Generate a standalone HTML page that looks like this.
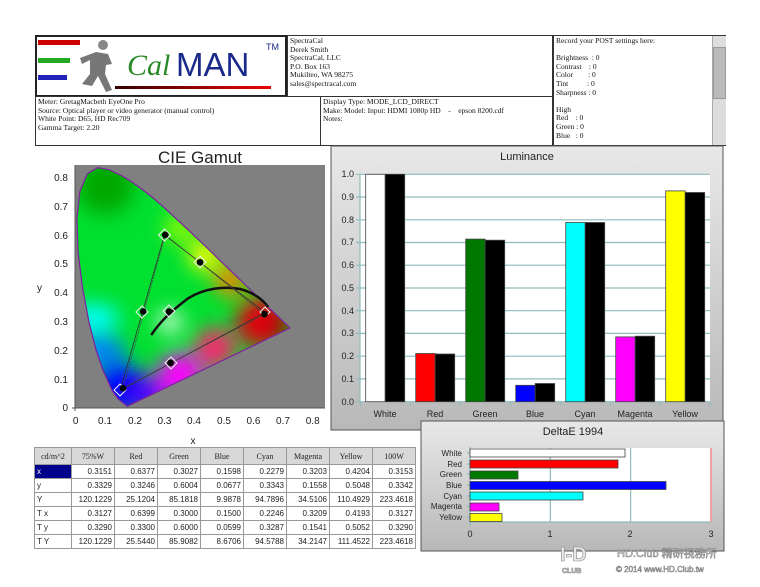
<!DOCTYPE html>
<html><head><meta charset="utf-8"><style>
body{margin:0;width:760px;height:587px;background:#fff;position:relative;overflow:hidden;font-family:"Liberation Serif",serif;}
.b{position:absolute;border:1px solid #333;box-sizing:border-box;background:#fff;font-size:7.5px;line-height:8.6px;padding:1px 2px;color:#111;white-space:pre;}
table{position:absolute;left:34px;top:447px;border-collapse:collapse;font-family:"Liberation Sans",sans-serif;font-size:8px;color:#222;}
td{border:1px solid #999;height:13px;padding:0 2px;text-align:right;width:38px;}
td:first-child{text-align:left;width:32px;}
tr.h td{background:#d8d8d8;text-align:center;height:16px;font-family:"Liberation Serif",serif;}
</style></head><body>
<div class="b" style="left:35px;top:35px;width:252px;height:62px;border:2px solid #222;padding:0"></div>
<div style="position:absolute;left:38px;top:40px;width:42px;height:5px;background:#c00"></div>
<div style="position:absolute;left:38px;top:58px;width:32px;height:5px;background:#2a2"></div>
<div style="position:absolute;left:38px;top:75px;width:29px;height:5px;background:#22b"></div>
<svg style="position:absolute;left:78px;top:38px" width="40" height="56"><circle cx="25" cy="7" r="5" fill="#888"/><path d="M18 14 L30 16 L34 26 L28 27 L27 36 L34 52 L28 54 L20 38 L14 48 L4 46 L12 36 L12 22 L4 26 L2 20 Z" fill="#777"/></svg>
<div style="position:absolute;left:127px;top:48px;font-family:'Liberation Serif',serif;font-style:italic;font-size:30px;color:#2a8a2a;line-height:36px">Cal</div>
<div style="position:absolute;left:176px;top:47px;font-family:'Liberation Sans',sans-serif;font-size:33px;color:#1a2a8a;line-height:36px">MAN</div>
<div style="position:absolute;left:266px;top:42px;font-family:'Liberation Sans',sans-serif;font-size:9px;color:#1a2a8a">TM</div>
<div style="position:absolute;left:115px;top:86px;width:156px;height:3px;background:linear-gradient(90deg,#300,#e00)"></div>
<div class="b" style="left:287px;top:35px;width:266px;height:62px">SpectraCal
Derek Smith
SpectraCal, LLC
P.O. Box 163
Mukilteo, WA 98275
sales@spectracal.com</div>
<div class="b" style="left:35px;top:96px;width:286px;height:50px">Meter: GretagMacbeth EyeOne Pro
Source: Optical player or video generator (manual control)
White Point: D65, HD Rec709
Gamma Target: 2.20</div>
<div class="b" style="left:320px;top:96px;width:233px;height:50px">Display Type: MODE_LCD_DIRECT
Make: Model: Input: HDMI 1080p HD    -    epson 8200.cdf
Notes:</div>
<div class="b" style="left:553px;top:35px;width:173px;height:111px">Record your POST settings here:

Brightness  : 0
Contrast    : 0
Color        : 0
Tint          : 0
Sharpness : 0

High
Red    : 0
Green : 0
Blue   : 0</div>
<div style="position:absolute;left:712px;top:36px;width:13px;height:109px;background:#ddd;border-left:1px solid #aaa"><div style="margin-top:11px;height:50px;background:#bbb;border:1px solid #999"></div></div>

<svg style="position:absolute;left:0;top:0" width="760" height="587" font-family="Liberation Sans, sans-serif">
<defs>
<clipPath id="cp"><path id="loc" d="M127.2,406.3 L118.3,399.1 L112.4,391.1 L102.7,369.5 L96,349.9 L89.1,322.7 L82.7,288.8 L78.1,252.6 L76.9,219.1 L79.8,191.6 L87.2,173.8 L97.7,167.6 L109.5,169.8 L121.5,175.6 L132.8,182.6 L143.7,190.5 L154.4,199.1 L165,208.3 L175.5,218 L186.1,227.9 L196.7,237.9 L207.2,248 L217.4,257.9 L227.4,267.6 L237,276.8 L246,285.5 L254.2,293.5 L261.3,300.4 L267.6,306.5 L272.8,311.5 L290,328 Z"/></clipPath>
<filter id="bl" x="-50%" y="-50%" width="200%" height="200%"><feGaussianBlur stdDeviation="10"/></filter>
<linearGradient id="lg" x1="0" y1="0" x2="0" y2="1"><stop offset="0" stop-color="#e8e8e8"/><stop offset="1" stop-color="#b8b8b8"/></linearGradient>
</defs>
<text x="200" y="163" font-size="17" text-anchor="middle" fill="#222">CIE Gamut</text>
<rect x="75" y="165" width="250" height="243" fill="#808080"/>
<g clip-path="url(#cp)">
<rect x="70" y="160" width="230" height="250" fill="#00e030"/>
<g filter="url(#bl)">
<circle cx="105" cy="185" r="30" fill="#00a800"/>
<ellipse cx="92" cy="318" rx="28" ry="14" fill="#00ffff"/>
<ellipse cx="100" cy="350" rx="25" ry="15" fill="#0080ff"/>
<circle cx="120" cy="388" r="26" fill="#0000ff"/>
<circle cx="150" cy="395" r="18" fill="#5000ff"/>
<circle cx="180" cy="375" r="22" fill="#ff00ff"/>
<circle cx="215" cy="348" r="20" fill="#ff2070"/>
<circle cx="262" cy="322" r="26" fill="#e00010"/>
<circle cx="282" cy="326" r="10" fill="#900000"/>
<circle cx="230" cy="280" r="16" fill="#ff8000"/>
<circle cx="205" cy="255" r="16" fill="#ffff00"/>
<circle cx="180" cy="228" r="14" fill="#a0ff00"/>
<circle cx="170" cy="322" r="11" fill="#ffffff"/>
</g></g>
<use href="#loc" fill="none" stroke="#8020a0" stroke-width="1.2"/>
<g font-size="10" fill="#222">
<g text-anchor="end"><text x="68" y="181">0.8</text><text x="68" y="210">0.7</text><text x="68" y="239">0.6</text><text x="68" y="267">0.5</text><text x="68" y="296">0.4</text><text x="68" y="325">0.3</text><text x="68" y="354">0.2</text><text x="68" y="383">0.1</text><text x="68" y="411">0</text></g>
<g text-anchor="middle"><text x="75.7" y="424">0</text><text x="105" y="424">0.1</text><text x="135" y="424">0.2</text><text x="164.5" y="424">0.3</text><text x="194" y="424">0.4</text><text x="224" y="424">0.5</text><text x="253.5" y="424">0.6</text><text x="283" y="424">0.7</text><text x="312.7" y="424">0.8</text></g>
<text x="193" y="444" text-anchor="middle">x</text><text x="37" y="291">y</text>
</g>
<path d="M72,408H325M75,165V411" stroke="#555"/>
<path d="M151.2,335.1 C160,322 170,312 188.2,298.3 C205,288 225,286 240,289 C255,293 263,300 268.1,306.9" fill="none" stroke="#111" stroke-width="2.5"/>
<path d="M265.1,312.7 L164.5,234.9 L120.1,390.4 Z" fill="none" stroke="#333" stroke-width="0.8"/>
<path d="M264.5,314.2 L165.3,234.8 L123,388.2 Z" fill="none" stroke="#444" stroke-width="0.7" stroke-dasharray="2,1"/>
<g fill="none" stroke="#eee" stroke-width="1">
<path d="M265,307 l5,5 -5,5 -5,-5z M164.5,229 l6,6 -6,6 -6,-6z M120,384 l6,6 -6,6 -6,-6z M142,306 l6,6 -6,6 -6,-6z M171,357 l6,6 -6,6 -6,-6z M200,256 l6,6 -6,6 -6,-6z M169,305 l6,6 -6,6 -6,-6z"/></g>
<g fill="#000"><circle cx="264.5" cy="314.2" r="3.3"/><circle cx="165.3" cy="234.8" r="3.3"/><circle cx="123" cy="388.2" r="3.3"/><circle cx="143.2" cy="311.4" r="3.3"/><circle cx="170.5" cy="362.8" r="3.3"/><circle cx="200.1" cy="262.3" r="3.3"/><circle cx="169" cy="311.5" r="3.3"/></g>

<rect x="331" y="146" width="392" height="284" fill="url(#lg)" stroke="#555"/>
<text x="527" y="160" font-size="11" text-anchor="middle" fill="#222">Luminance</text>
<rect x="360" y="174" width="350" height="228" fill="#fff"/>
<g stroke="#8fbcbc" stroke-width="1.2">
<path d="M356,174.3H710M356,197H710M356,219.8H710M356,242.5H710M356,265.2H710M356,288H710M356,310.7H710M356,333.4H710M356,356.2H710M356,378.9H710M356,401.7H710M360,174V402"/>
<path d="M360.5,402v4M410.5,402v4M460.5,402v4M510.5,402v4M560.5,402v4M610.5,402v4M660.5,402v4M710,402v4"/>
</g>
<g font-size="9" fill="#222" text-anchor="end"><text x="354" y="177">1.0</text><text x="354" y="200">0.9</text><text x="354" y="223">0.8</text><text x="354" y="245">0.7</text><text x="354" y="268">0.6</text><text x="354" y="291">0.5</text><text x="354" y="314">0.4</text><text x="354" y="336">0.3</text><text x="354" y="359">0.2</text><text x="354" y="382">0.1</text><text x="354" y="405">0.0</text></g>
<g stroke="#444" stroke-width="0.8">
<rect x="365.7" y="174.3" width="19.5" height="227.4" fill="#fff"/><rect x="385.2" y="174.3" width="19.5" height="227.4" fill="#000"/>
<rect x="415.7" y="353.5" width="19.5" height="48.2" fill="#f00"/><rect x="435.2" y="354" width="19.5" height="47.7" fill="#000"/>
<rect x="465.7" y="239.1" width="19.5" height="162.6" fill="#007800"/><rect x="485.2" y="240.2" width="19.5" height="161.5" fill="#000"/>
<rect x="515.7" y="385.3" width="19.5" height="16.4" fill="#00f"/><rect x="535.2" y="383.5" width="19.5" height="18.2" fill="#000"/>
<rect x="565.7" y="222.5" width="19.5" height="179.2" fill="#0ff"/><rect x="585.2" y="222.5" width="19.5" height="179.2" fill="#000"/>
<rect x="615.7" y="336.9" width="19.5" height="64.8" fill="#f0f"/><rect x="635.2" y="336.2" width="19.5" height="65.5" fill="#000"/>
<rect x="665.7" y="190.9" width="19.5" height="210.8" fill="#ff0"/><rect x="685.2" y="192.5" width="19.5" height="209.2" fill="#000"/>
</g>
<g font-size="9" fill="#222" text-anchor="middle"><text x="385" y="417">White</text><text x="435" y="417">Red</text><text x="485" y="417">Green</text><text x="535" y="417">Blue</text><text x="585" y="417">Cyan</text><text x="635" y="417">Magenta</text><text x="685" y="417">Yellow</text></g>

<rect x="421" y="421" width="303" height="130" fill="url(#lg)" stroke="#555"/>
<text x="573" y="435" font-size="11" text-anchor="middle" fill="#222">DeltaE 1994</text>
<rect x="470" y="448" width="242" height="74" fill="#fff"/>
<g stroke="#8fbcbc" stroke-width="1.2"><path d="M470,447V526M550.3,448V522M630.6,448V522M467,453h3M467,464h3M467,474h3M467,485h3M467,496h3M467,506h3M467,517h3M470,522H711"/></g>
<path d="M711,448V522" stroke="#f08080" stroke-width="1.5"/>
<g stroke="#444" stroke-width="0.8">
<rect x="470" y="449" width="155" height="8" fill="#fff"/>
<rect x="470" y="460" width="148" height="8" fill="#f00"/>
<rect x="470" y="471" width="48" height="8" fill="#007800"/>
<rect x="470" y="481.5" width="196" height="8" fill="#00f"/>
<rect x="470" y="492" width="113" height="8" fill="#0ff"/>
<rect x="470" y="503" width="29" height="8" fill="#f0f"/>
<rect x="470" y="513.5" width="32" height="8" fill="#ff0"/>
</g>
<g font-size="8" fill="#222" text-anchor="end"><text x="462" y="456">White</text><text x="462" y="467">Red</text><text x="462" y="477">Green</text><text x="462" y="488">Blue</text><text x="462" y="499">Cyan</text><text x="462" y="509">Magenta</text><text x="462" y="520">Yellow</text></g>
<g font-size="9" fill="#222" text-anchor="middle"><text x="470" y="537">0</text><text x="550" y="537">1</text><text x="630" y="537">2</text><text x="711" y="537">3</text></g>

<g fill="#e8e8e8" stroke="#888" stroke-width="0.6">
<text x="560" y="561" font-size="20" font-weight="bold">I-D</text>
<text x="617" y="557" font-size="11">HD.Club 精研視務所</text>
<text x="562" y="573" font-size="7" font-weight="bold">CLUB</text>
<text x="616" y="572" font-size="8">© 2014  www.HD.Club.tw</text>
</g>
</svg>

<table>
<tr class="h"><td>cd/m^2</td><td>75%W</td><td>Red</td><td>Green</td><td>Blue</td><td>Cyan</td><td>Magenta</td><td>Yellow</td><td>100W</td></tr>
<tr><td style="background:#00008b;color:#fff">x</td><td>0.3151</td><td>0.6377</td><td>0.3027</td><td>0.1598</td><td>0.2279</td><td>0.3203</td><td>0.4204</td><td>0.3153</td></tr>
<tr><td>y</td><td>0.3329</td><td>0.3246</td><td>0.6004</td><td>0.0677</td><td>0.3343</td><td>0.1558</td><td>0.5048</td><td>0.3342</td></tr>
<tr><td>Y</td><td>120.1229</td><td>25.1204</td><td>85.1818</td><td>9.9878</td><td>94.7896</td><td>34.5106</td><td>110.4929</td><td>223.4618</td></tr>
<tr><td>T x</td><td>0.3127</td><td>0.6399</td><td>0.3000</td><td>0.1500</td><td>0.2246</td><td>0.3209</td><td>0.4193</td><td>0.3127</td></tr>
<tr><td>T y</td><td>0.3290</td><td>0.3300</td><td>0.6000</td><td>0.0599</td><td>0.3287</td><td>0.1541</td><td>0.5052</td><td>0.3290</td></tr>
<tr><td>T Y</td><td>120.1229</td><td>25.5440</td><td>85.9082</td><td>8.6706</td><td>94.5788</td><td>34.2147</td><td>111.4522</td><td>223.4618</td></tr>
</table>
</body></html>
